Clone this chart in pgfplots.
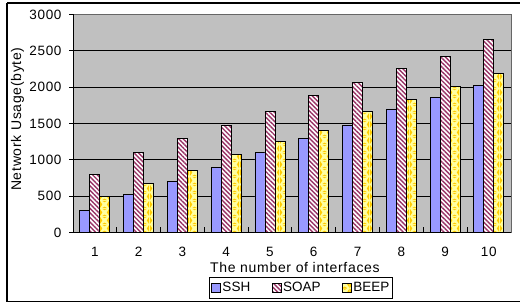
\documentclass[border=0pt]{standalone}
\usepackage{fontspec}
\setmainfont{Liberation Sans}
\newfontfamily\widefont[LetterSpace=5]{Liberation Sans}
\usepackage{pgfplots}
\pgfplotsset{compat=1.18}
\usetikzlibrary{patterns,patterns.meta}
\definecolor{sshc}{HTML}{9999FF}
\definecolor{soapc}{HTML}{993366}
\definecolor{beepl}{HTML}{FFFFA0}
\definecolor{beepd}{HTML}{FFCC00}
\definecolor{bgc}{HTML}{C0C0C0}
\pgfdeclarepatternformonly{gdiamonds}{\pgfpointorigin}{\pgfpoint{10pt}{8pt}}{\pgfpoint{10pt}{8pt}}{%
  \pgfpathmoveto{\pgfpoint{0pt}{0pt}}\pgfpathlineto{\pgfpoint{2.5pt}{4pt}}\pgfpathlineto{\pgfpoint{0pt}{8pt}}\pgfpathclose
  \pgfpathmoveto{\pgfpoint{10pt}{0pt}}\pgfpathlineto{\pgfpoint{7.5pt}{4pt}}\pgfpathlineto{\pgfpoint{10pt}{8pt}}\pgfpathclose
  \pgfpathmoveto{\pgfpoint{5pt}{0pt}}\pgfpathlineto{\pgfpoint{2.5pt}{0pt}}\pgfpathlineto{\pgfpoint{5pt}{1.5pt}}\pgfpathlineto{\pgfpoint{7.5pt}{0pt}}\pgfpathclose
  \pgfpathmoveto{\pgfpoint{5pt}{8pt}}\pgfpathlineto{\pgfpoint{2.5pt}{8pt}}\pgfpathlineto{\pgfpoint{5pt}{6.5pt}}\pgfpathlineto{\pgfpoint{7.5pt}{8pt}}\pgfpathclose
  \pgfusepath{fill}}
\pgfplotstableread{
x SSH SOAP BEEP
1 300 800 500
2 520 1100 680
3 700 1300 850
4 900 1480 1080
5 1100 1660 1250
6 1300 1890 1410
7 1480 2060 1660
8 1700 2260 1830
9 1860 2420 2005
10 2025 2655 2190
}\datatable
\begin{document}
\begin{tikzpicture}[x=1pt,y=1pt]
\useasboundingbox (0,0) rectangle (520,304);
\draw[line width=1.5pt] (7,301) -- (522,301);
\draw[line width=1.2pt] (7,301) -- (7,2.5) -- (522,2.5);
\begin{axis}[
  at={(73pt,71.5pt)}, anchor=south west,
  scale only axis, width=437.7pt, height=218pt,
  xmin=0.5, xmax=10.5, ymin=0, ymax=3000,
  axis background/.style={fill=bgc, draw=gray!80!black},
  axis lines=left,
  axis line style={-, black, line width=1pt},
  ybar=0pt, bar width=10pt,
  tick align=outside,
  major tick length=4pt,
  ytick={0,500,...,3000},
  xtick={1,...,10},
  xtick style={draw=none},
  extra x ticks={1.5,2.5,...,9.5},
  extra x tick labels={},
  extra x tick style={tick align=inside, major tick length=5pt, xtick style={draw=black}},
  extra y ticks={500,1000,...,2500},
  extra y tick labels={},
  extra y tick style={grid=major, major tick length=0pt},
  grid style={black, line width=0.8pt},
  tick style={black, line width=0.8pt},
  /pgf/number format/.cd, 1000 sep={}, assume math mode=true, /pgfplots/.cd,
  ticklabel style={font=\widefont\fontsize{13.5}{16}\selectfont},
  xticklabel style={yshift=-7pt},
  yticklabel style={xshift=-4pt},
  xlabel={\widefont The number of interfaces},
  xlabel style={at={(axis description cs:0.507,-0.162)}, anchor=center, font=\fontsize{14}{16}\selectfont},
  ylabel={\widefont Network Usage(byte)},
  ylabel style={at={(axis description cs:-0.127,0.52)}, anchor=center, font=\fontsize{14}{16}\selectfont},
  legend columns=3,
  legend style={at={(axis description cs:0.521,-0.2546)}, anchor=center, draw=black, line width=1pt,
    font=\fontsize{13.5}{16}\selectfont, inner xsep=2pt, inner ysep=3pt,
    /tikz/every odd column/.append style={column sep=0pt},
    /tikz/every even column/.append style={column sep=20pt},
    nodes={inner xsep=1.5pt}},
  legend image code/.code={\draw[#1, line width=0.8pt] (0pt,-4.5pt) rectangle (9pt,4.5pt);},
]
\addplot[fill=sshc, draw=black, line width=0.8pt] table[x=x,y=SSH] {\datatable};
\addplot[fill=white, draw=black, line width=0.8pt, postaction={pattern={Lines[angle=-45, distance=3.2pt, line width=1.4pt]}, pattern color=soapc}] table[x=x,y=SOAP] {\datatable};
\addplot[fill=beepl, draw=black, line width=0.8pt, postaction={pattern=gdiamonds, pattern color=beepd}] table[x=x,y=BEEP] {\datatable};
\legend{SSH,SOAP,BEEP}
\end{axis}
\end{tikzpicture}
\end{document}
